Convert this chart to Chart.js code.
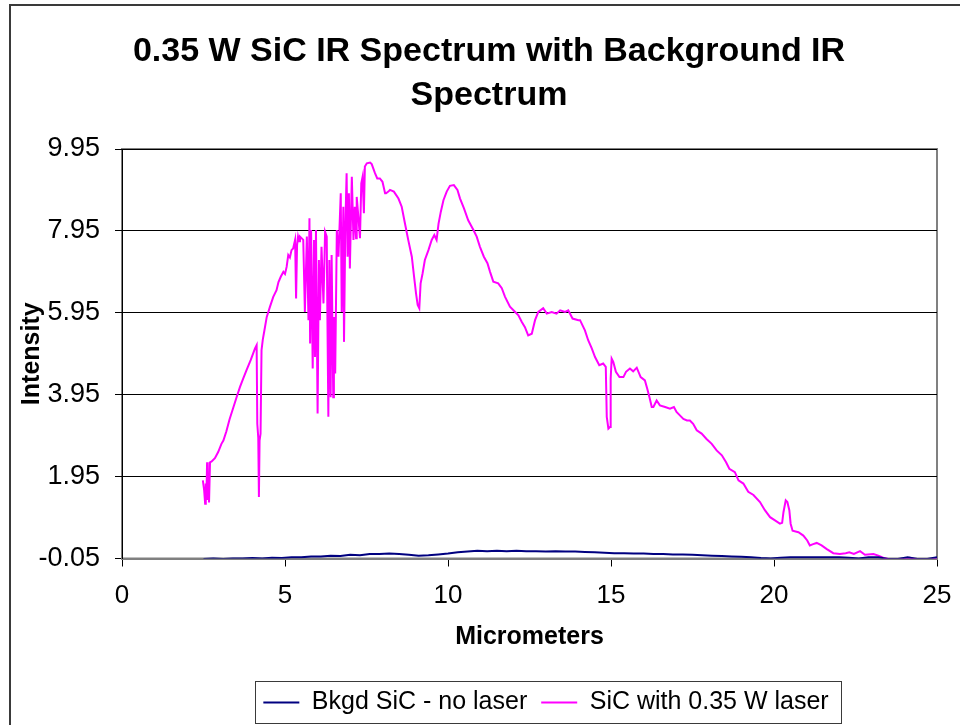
<!DOCTYPE html>
<html>
<head>
<meta charset="utf-8">
<title>0.35 W SiC IR Spectrum</title>
<script src="https://cdn.jsdelivr.net/npm/chart.js"></script>
<style>
  html, body { margin: 0; padding: 0; background: #fff; }
</style>
</head>
<body>
<canvas id="myChart" width="960" height="725"></canvas>
<script>
// background spectrum, no laser
var bkgdX = [2.5, 2.8, 3.1, 3.4, 3.7, 4.0, 4.3, 4.6, 4.9, 5.2, 5.5, 5.8, 6.1, 6.4, 6.7, 7.0, 7.3, 7.6, 7.9, 8.2,
  8.5, 8.8, 9.1, 9.4, 9.7, 10.0, 10.3, 10.6, 10.9, 11.2, 11.5, 11.8, 12.1, 12.4, 12.7, 13.0, 13.3, 13.6, 13.9,
  14.2, 14.5, 14.8, 15.1, 15.4, 15.7, 16.0, 16.3, 16.6, 16.9, 17.2, 17.5, 17.8, 18.1, 18.4, 18.7, 19.0, 19.3,
  19.6, 19.9, 20.2, 20.5, 20.8, 21.1, 21.4, 21.7, 22.0, 22.3, 22.6, 22.9, 23.2, 23.5, 23.8, 24.1, 24.4, 24.7, 25.0];
var bkgdY = [-0.06, -0.05, -0.06, -0.05, -0.05, -0.04, -0.05, -0.03, -0.04, -0.02, -0.02, 0.00, 0.00, 0.02, 0.01,
  0.04, 0.03, 0.06, 0.06, 0.07, 0.06, 0.04, 0.02, 0.03, 0.05, 0.07, 0.10, 0.12, 0.14, 0.13, 0.14, 0.13, 0.14,
  0.13, 0.13, 0.12, 0.13, 0.12, 0.12, 0.11, 0.10, 0.09, 0.08, 0.08, 0.07, 0.07, 0.06, 0.06, 0.05, 0.05, 0.04,
  0.03, 0.02, 0.01, 0.00, -0.01, -0.02, -0.04, -0.05, -0.03, -0.02, -0.02, -0.02, -0.02, -0.02, -0.02, -0.03,
  -0.05, -0.02, -0.02, -0.06, -0.06, -0.02, -0.06, -0.06, -0.02];

// SiC with 0.35 W laser
var laserX = [2.48, 2.52, 2.55, 2.57, 2.59, 2.61, 2.63, 2.65, 2.67, 2.70, 2.75, 2.85, 2.95, 3.05, 3.11, 3.20,
  3.30, 3.42, 3.52, 3.62, 3.72, 3.82, 3.95, 4.08, 4.13, 4.15, 4.18, 4.20, 4.22, 4.25, 4.28, 4.32, 4.36, 4.44,
  4.54, 4.64, 4.74, 4.80, 4.87, 4.95, 5.00, 5.05, 5.10, 5.15, 5.20, 5.25, 5.31, 5.34, 5.37, 5.40, 5.43, 5.46,
  5.56, 5.61, 5.67, 5.72, 5.75, 5.77, 5.80, 5.85, 5.89, 5.92, 5.95, 6.00, 6.04, 6.07, 6.12, 6.18, 6.23, 6.28,
  6.30, 6.33, 6.36, 6.40, 6.43, 6.48, 6.50, 6.54, 6.59, 6.64, 6.71, 6.74, 6.79, 6.81, 6.85, 6.89, 6.92, 6.96,
  6.99, 7.05, 7.10, 7.14, 7.18, 7.20, 7.25, 7.30, 7.34, 7.38, 7.42, 7.45, 7.51, 7.61, 7.66, 7.76, 7.83, 7.91,
  7.99, 8.07, 8.10, 8.17, 8.22, 8.34, 8.48, 8.58, 8.68, 8.78, 8.89, 8.96, 9.02, 9.07, 9.12, 9.16, 9.22, 9.29,
  9.40, 9.50, 9.58, 9.65, 9.71, 9.78, 9.86, 9.96, 10.06, 10.18, 10.29, 10.37, 10.49, 10.62, 10.78, 10.88,
  10.98, 11.10, 11.21, 11.29, 11.39, 11.54, 11.65, 11.75, 11.90, 12.06, 12.16, 12.26, 12.36, 12.46, 12.57,
  12.67, 12.77, 12.92, 13.03, 13.18, 13.33, 13.44, 13.59, 13.69, 13.82, 14.00, 14.05, 14.20, 14.30, 14.41,
  14.51, 14.64, 14.76, 14.84, 14.87, 14.92, 14.97, 14.99, 15.02, 15.07, 15.15, 15.26, 15.38, 15.46, 15.58,
  15.68, 15.79, 15.91, 16.04, 16.11, 16.18, 16.25, 16.30, 16.40, 16.50, 16.66, 16.81, 16.93, 17.01, 17.12,
  17.22, 17.33, 17.42, 17.52, 17.63, 17.78, 17.93, 18.09, 18.24, 18.40, 18.53, 18.63, 18.80, 18.91, 19.06,
  19.21, 19.37, 19.57, 19.72, 19.88, 20.03, 20.18, 20.25, 20.29, 20.36, 20.41, 20.47, 20.51, 20.57, 20.75,
  20.90, 21.02, 21.10, 21.20, 21.31, 21.46, 21.62, 21.82, 22.02, 22.20, 22.31, 22.45, 22.64, 22.79, 23.05,
  23.20, 23.35, 23.56, 23.81, 24.00, 24.17, 24.38, 24.84, 24.99];
var laserY = [1.86, 1.62, 1.29, 1.78, 1.50, 2.30, 1.38, 1.90, 1.32, 2.30, 2.32, 2.40, 2.55, 2.75, 2.83, 3.05,
  3.35, 3.65, 3.90, 4.14, 4.35, 4.55, 4.80, 5.08, 5.16, 3.24, 2.90, 1.45, 2.83, 3.00, 5.04, 5.30, 5.48, 5.85,
  6.10, 6.34, 6.50, 6.70, 6.83, 6.95, 6.90, 7.07, 7.36, 7.30, 7.48, 7.52, 7.73, 6.30, 7.60, 7.81, 7.70, 7.81,
  7.73, 5.97, 7.81, 5.77, 8.26, 5.20, 7.97, 4.59, 7.73, 4.87, 7.97, 3.49, 7.24, 5.77, 7.56, 6.18, 7.93, 7.81,
  5.93, 3.41, 7.24, 3.89, 7.36, 3.89, 5.85, 4.47, 7.97, 7.32, 8.87, 5.97, 8.54, 5.24, 8.05, 9.36, 7.32, 8.87,
  7.03, 9.27, 7.73, 8.54, 7.77, 8.78, 8.30, 7.77, 9.11, 9.27, 8.38, 9.52, 9.60, 9.62, 9.58, 9.36, 9.23, 9.23,
  9.15, 8.87, 8.87, 8.91, 8.95, 8.91, 8.74, 8.54, 8.13, 7.73, 7.32, 6.83, 6.42, 6.14, 6.06, 6.67, 6.91, 7.24,
  7.48, 7.73, 7.85, 7.73, 8.13, 8.42, 8.70, 8.91, 9.05, 9.07, 8.95, 8.74, 8.50, 8.21, 7.97, 7.81,
  7.56, 7.32, 7.16, 6.95, 6.71, 6.67, 6.55, 6.34, 6.10, 5.97, 5.89, 5.73, 5.60, 5.40, 5.44,
  5.77, 5.97, 6.06, 5.93, 5.97, 5.93, 6.01, 5.97, 6.01, 5.81, 5.77, 5.77, 5.52, 5.28, 5.08,
  4.87, 4.67, 4.71, 4.63, 3.41, 3.12, 3.16, 4.34, 4.83, 4.75, 4.51, 4.38, 4.38, 4.51, 4.59,
  4.52, 4.61, 4.38, 4.30, 4.10, 3.89, 3.65, 3.65, 3.81, 3.69, 3.65, 3.61, 3.65, 3.53, 3.44,
  3.36, 3.32, 3.32, 3.24, 3.08, 3.00, 2.87, 2.75, 2.59, 2.47, 2.30, 2.14, 2.06, 1.86, 1.78,
  1.58, 1.50, 1.33, 1.13, 0.96, 0.88, 0.80, 0.82, 1.08, 1.37, 1.33, 1.13, 0.80, 0.63, 0.59,
  0.51, 0.39, 0.27, 0.30, 0.33, 0.27, 0.18, 0.08, 0.06, 0.08, 0.10, 0.06, 0.13, 0.04, 0.06,
  0.02, -0.03, -0.08, -0.08, -0.06, -0.03, -0.08, -0.08, -0.03];

var seriesNames = ["Bkgd SiC - no laser", "SiC with 0.35 W laser"];
var seriesColors = ["#000080", "#FF00FF"];
var yTicks = [-0.05, 1.95, 3.95, 5.95, 7.95, 9.95];
var titleLines = ["0.35 W SiC IR Spectrum with Background IR", "Spectrum"];

function toPoints(xs, ys) {
  return xs.map(function (x, i) { return {x: x, y: ys[i]}; });
}

Chart.defaults.font.family = "'Liberation Sans', Arial, sans-serif";
Chart.defaults.color = "#000";

// frame, title and legend box drawn like the Excel chart
var excelLook = {
  id: "excelLook",
  afterLayout: function (chart) {
    var lg = chart.legend;
    var d = 546 - (lg.left + lg.right) / 2;
    lg.left += d;
    lg.right += d;
  },
  beforeDraw: function (chart) {
    var ctx = chart.ctx;
    var a = chart.chartArea;
    ctx.save();
    ctx.fillStyle = "#fff";
    ctx.fillRect(0, 0, chart.width, chart.height);
    ctx.strokeStyle = "#3a3a3a";
    ctx.lineWidth = 2;
    ctx.strokeRect(10, 5, chart.width + 40, chart.height + 40);
    ctx.strokeStyle = "#808080";
    ctx.lineWidth = 2;
    ctx.strokeRect(a.left, a.top, a.right - a.left, a.bottom - a.top);
    ctx.restore();
  },
  afterDraw: function (chart) {
    var ctx = chart.ctx;
    ctx.save();
    ctx.fillStyle = "#000";
    ctx.font = "bold 34px 'Liberation Sans', Arial, sans-serif";
    ctx.textAlign = "center";
    ctx.textBaseline = "middle";
    titleLines.forEach(function (t, i) {
      ctx.fillText(t, 489, 52 + i * 44);
    });
    var boxes = chart.legend.legendHitBoxes;
    if (boxes && boxes.length) {
      var first = boxes[0];
      var last = boxes[boxes.length - 1];
      var cy = first.top + first.height / 2;
      var x0 = first.left - 8;
      var x1 = last.left + last.width + 13;
      ctx.strokeStyle = "#3a3a3a";
      ctx.lineWidth = 1;
      ctx.strokeRect(Math.round(x0) + 0.5, Math.round(cy - 22) + 0.5, Math.round(x1 - x0), 42);
    }
    ctx.restore();
  }
};

new Chart("myChart", {
  type: "line",
  data: {
    datasets: [{
      label: seriesNames[0],
      data: toPoints(bkgdX, bkgdY),
      borderColor: seriesColors[0],
      backgroundColor: seriesColors[0],
      borderWidth: 2,
      pointRadius: 0,
      tension: 0
    }, {
      label: seriesNames[1],
      data: toPoints(laserX, laserY),
      borderColor: seriesColors[1],
      backgroundColor: seriesColors[1],
      borderWidth: 2,
      pointRadius: 0,
      tension: 0
    }]
  },
  options: {
    responsive: false,
    animation: false,
    layout: {padding: {top: 149, left: 12, right: 23, bottom: 0}},
    plugins: {
      title: {display: false},
      tooltip: {enabled: false},
      legend: {
        position: "bottom",
        labels: {
          font: {size: 25},
          padding: 14,
          usePointStyle: true,
          pointStyle: "line",
          pointStyleWidth: 36
        }
      }
    },
    scales: {
      x: {
        type: "linear",
        min: 0,
        max: 25,
        ticks: {stepSize: 5, font: {size: 26}, padding: 14},
        grid: {drawOnChartArea: false, drawTicks: true, tickLength: 8, tickColor: "#000"},
        border: {color: "#808080", width: 2},
        title: {display: true, text: "Micrometers", font: {size: 25, weight: "bold"}, padding: {top: 0, bottom: 24}},
        afterFit: function (scale) {
          scale.height = 117.5;
          scale.paddingLeft = 0;
          scale.paddingRight = 0;
        }
      },
      y: {
        type: "linear",
        min: -0.05,
        max: 9.95,
        afterBuildTicks: function (axis) {
          axis.ticks = yTicks.map(function (v) { return {value: v}; });
        },
        ticks: {
          font: {size: 27},
          padding: 15,
          callback: function (v) { return Number(v).toFixed(2); }
        },
        grid: {color: "#000", lineWidth: 1, drawTicks: true, tickLength: 7, tickColor: "#000"},
        border: {color: "#000", width: 1},
        title: {display: true, text: "Intensity", font: {size: 25, weight: "bold"}, padding: {top: 5, bottom: 0}},
        afterFit: function (scale) { scale.width = 110; }
      }
    }
  },
  plugins: [excelLook]
});
</script>
</body>
</html>
